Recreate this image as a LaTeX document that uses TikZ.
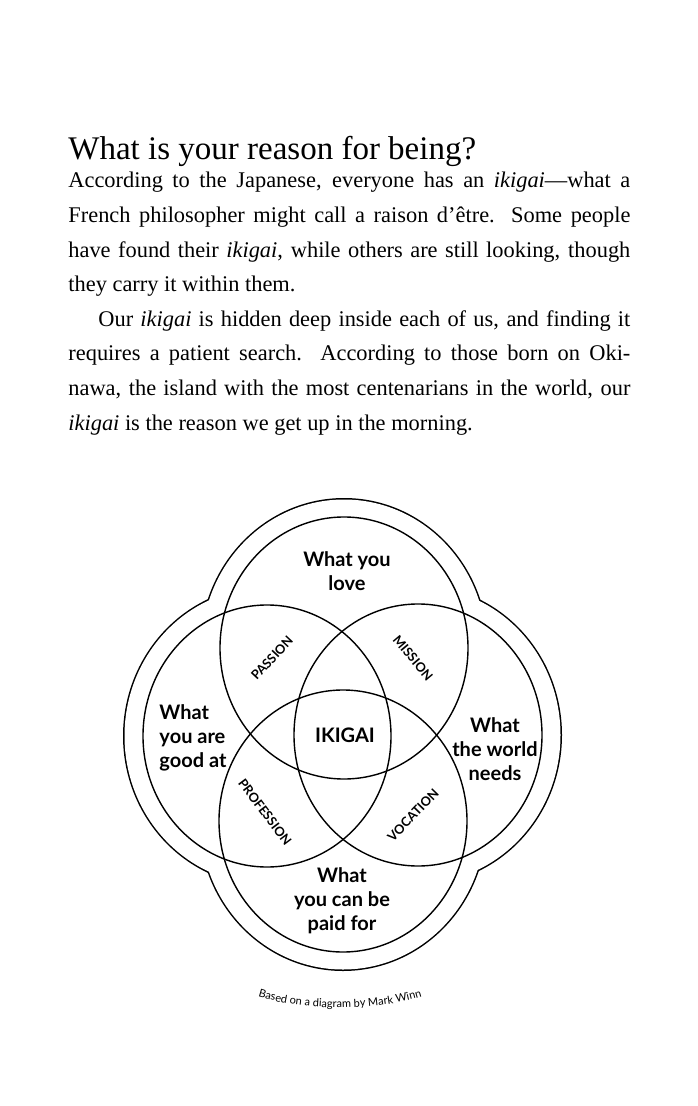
\documentclass[tikz,border=0pt]{standalone}
\usepackage{fontspec}
\setmainfont{Liberation Serif}
\newfontfamily\dg{Lato}
\usetikzlibrary{decorations.text}

\begin{document}
\begin{tikzpicture}[x=0.5pt,y=-0.5pt,
  lb/.style={font=\dg\bfseries\fontsize{10}{12}\selectfont,align=center},
  sm/.style={font=\dg\bfseries\fontsize{6.4}{7}\selectfont,inner sep=0}]
  \useasboundingbox (0,0) rectangle (697,1106);
  % heading and text
  \node[anchor=base west,inner sep=0,font=\fontsize{16.5}{18}\selectfont] (head) at (68,160) {What is your reason for being?};
  \node[anchor=north west,inner sep=0,text width=281pt,align=justify,
        font=\fontsize{11.2}{17.3}\selectfont] (body) at (68,172) {%
    \noindent According to the Japanese, everyone has an \textit{ikigai}---what a\linebreak
    French philosopher might call a raison d'être. Some people\linebreak
    have found their \textit{ikigai}, while others are still looking, though\linebreak
    they carry it within them.\par
    \hspace*{15pt}Our \textit{ikigai} is hidden deep inside each of us, and finding it\linebreak
    requires a patient search. According to those born on Oki-\linebreak
    nawa, the island with the most centenarians in the world, our\linebreak
    \textit{ikigai} is the reason we get up in the morning.\par};
  % outer border
  \foreach \c in {(344,648),(267,736),(418,735),(343,821)}
    \fill \c ellipse (144 and 150);
  \foreach \c in {(344,648),(267,736),(418,735),(343,821)}
    \fill[white] \c ellipse (142.5 and 148.5);
  % circles
  \foreach \c in {(344,648),(267,736),(418,735),(343,821)}
    \draw[line width=0.7pt] \c ellipse (124 and 131);
  % labels
  \node[lb] (love) at (347,571) {What you\\love};
  \node[lb,align=left] (good) at (193,738) {What\\you are\\good at};
  \node[lb] (needs) at (495,749) {What\\the world\\needs};
  \node[lb] (paid) at (342,901) {What\\you can be\\paid for};
  \node[lb] (ikigai) at (345,735) {IKIGAI};
  \node[sm,rotate=47] (passion) at (272,658) {PASSION};
  \node[sm,rotate=-50] (mission) at (413,658) {MISSION};
  \node[sm,rotate=-53] (profession) at (265,812) {PROFESSION};
  \node[sm,rotate=46] (vocation) at (413,815) {VOCATION};
  % caption
  \path[decorate,decoration={text along path,text align=center,
        text={|\dg\fontsize{5.5}{6}\selectfont|Based on a diagram by Mark Winn}}]
    (250,994) .. controls (300,1012) and (380,1012) .. (430,994);
\end{tikzpicture}
\end{document}
